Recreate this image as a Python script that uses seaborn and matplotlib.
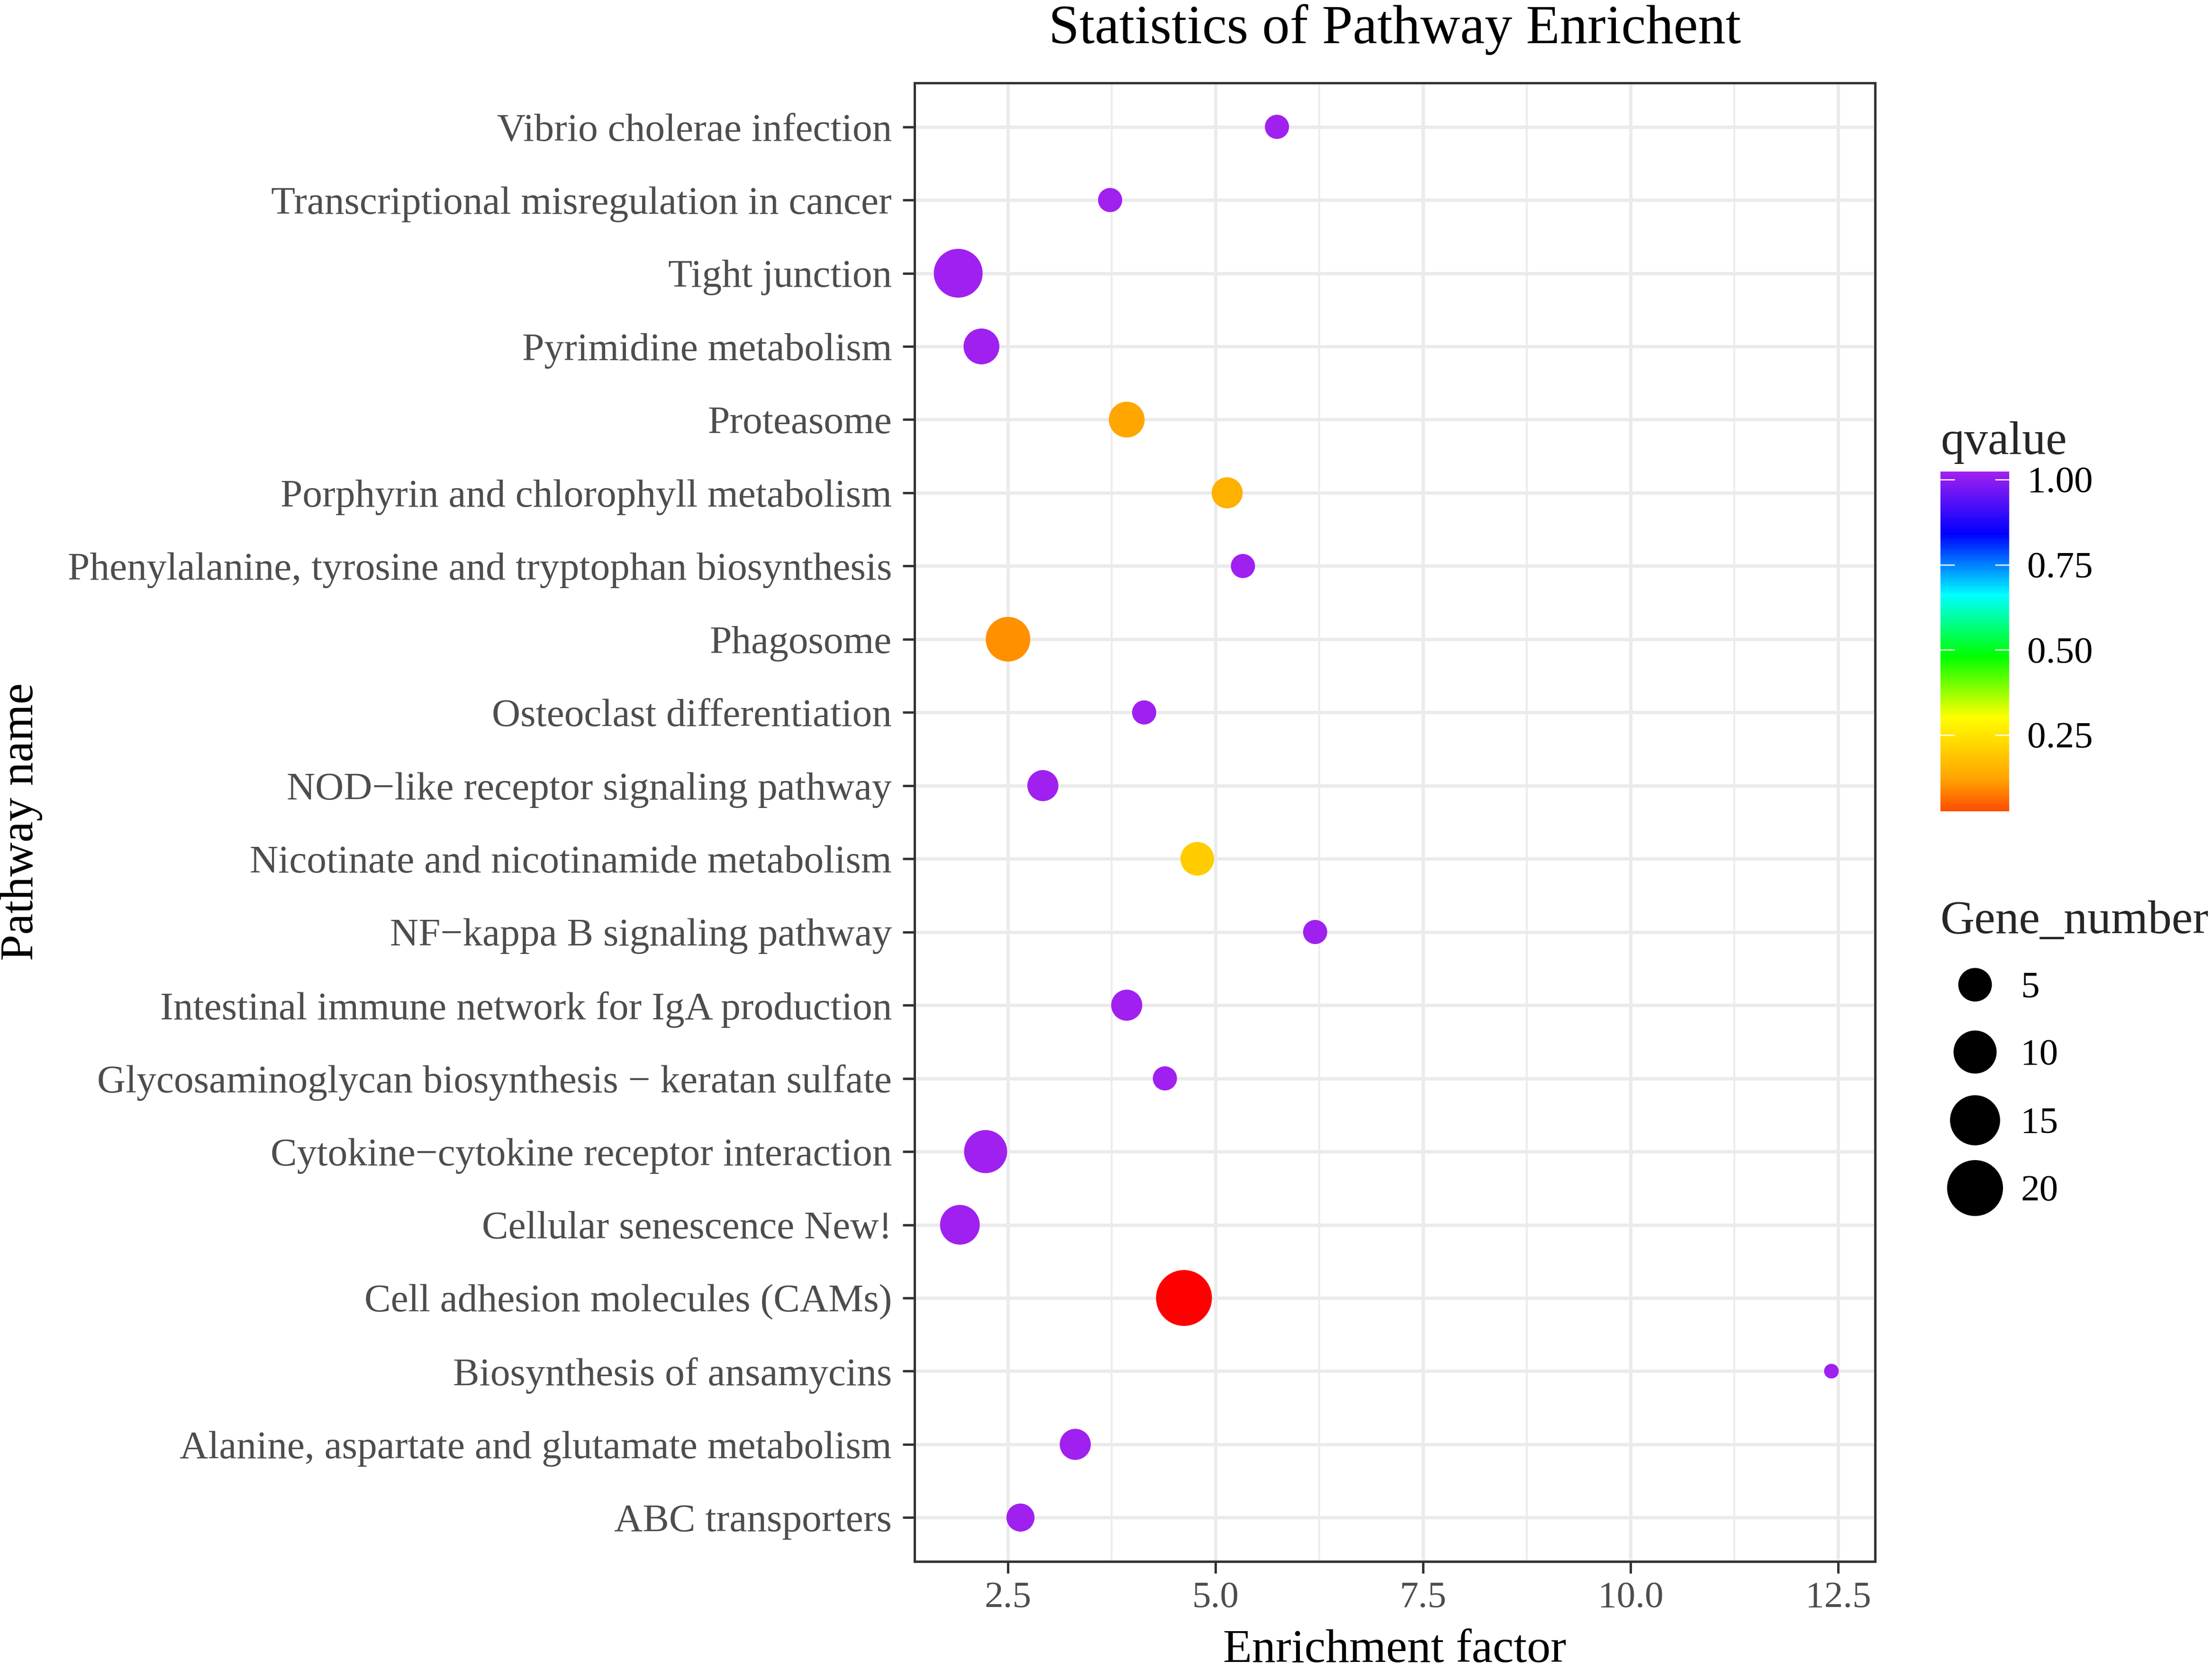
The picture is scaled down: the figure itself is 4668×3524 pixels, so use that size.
#Script for the pathway enrichment bubble chart

import numpy as np
import pandas as pd
import matplotlib
matplotlib.use("Agg")
import matplotlib.pyplot as plt
from matplotlib.colors import LinearSegmentedColormap, Normalize
from matplotlib.ticker import MultipleLocator
import seaborn as sns

# pathways listed from the bottom row to the top row
pathways = [
    "ABC transporters",
    "Alanine, aspartate and glutamate metabolism",
    "Biosynthesis of ansamycins",
    "Cell adhesion molecules (CAMs)",
    "Cellular senescence New!",
    "Cytokine\u2212cytokine receptor interaction",
    "Glycosaminoglycan biosynthesis \u2212 keratan sulfate",
    "Intestinal immune network for IgA production",
    "NF\u2212kappa B signaling pathway",
    "Nicotinate and nicotinamide metabolism",
    "NOD\u2212like receptor signaling pathway",
    "Osteoclast differentiation",
    "Phagosome",
    "Phenylalanine, tyrosine and tryptophan biosynthesis",
    "Porphyrin and chlorophyll metabolism",
    "Proteasome",
    "Pyrimidine metabolism",
    "Tight junction",
    "Transcriptional misregulation in cancer",
    "Vibrio cholerae infection",
]
enrichment = [2.65, 3.31, 12.42, 4.62, 1.92, 2.23, 4.39, 3.93, 6.20, 4.78,
              2.92, 4.14, 2.50, 5.33, 5.14, 3.93, 2.18, 1.90, 3.73, 5.74]
qvalues = [1.0, 1.0, 1.0, 0.05, 1.0, 1.0, 1.0, 1.0, 1.0, 0.28,
           1.0, 1.0, 0.19, 1.0, 0.23, 0.21, 1.0, 1.0, 1.0, 1.0]
gene_numbers = [3, 4, 1, 20, 8, 10, 2, 4, 2, 5,
                4, 2, 11, 2, 4, 6, 6, 14, 2, 2]

q_ticks = [0.25, 0.50, 0.75, 1.00]
size_legend = [5, 10, 15, 20]

W, H, DPI = 4668, 3524, 300
SERIF = ["Liberation Serif", "DejaVu Serif"]

qcolors = ["red", "orange", "yellow", "#00FF00", "cyan", "blue", "#A020F0"]
cmap = LinearSegmentedColormap.from_list("qrainbow", qcolors)
qnorm = Normalize(min(qvalues), max(qvalues))

gmin, gmax = min(gene_numbers), max(gene_numbers)


def marker_area(g):
    #ggplot-like area scale: diameter grows with sqrt of the rescaled value
    d_px = 31 + 87 * np.sqrt((g - gmin) / (gmax - gmin))
    return (d_px * 72 / DPI) ** 2


def fx(x):
    return x / W


def fy(y):
    return 1 - y / H


data = pd.DataFrame({
    "Pathway": pathways,
    "Enrichment": enrichment,
    "qvalue": qvalues,
    "Gene_number": gene_numbers,
})

sns.set_style("white")
plt.rcParams["font.family"] = SERIF

fig = plt.figure(figsize=(W / DPI, H / DPI), dpi=DPI)
ax = fig.add_axes([fx(1930), fy(3295), fx(3957) - fx(1930), fy(175) - fy(3295)])

sns.scatterplot(
    data=data,
    x="Enrichment",
    y="Pathway",
    hue="qvalue",
    size="Gene_number",
    palette=cmap,
    hue_norm=qnorm,
    sizes={g: marker_area(g) for g in set(gene_numbers)},
    linewidth=0,
    alpha=1,
    legend=False,
    ax=ax,
    zorder=3,
)

xr = max(enrichment) - min(enrichment)
ax.set_xlim(min(enrichment) - 0.05 * xr, max(enrichment) + 0.05 * xr)
ax.set_ylim(-0.6, len(pathways) - 0.4)
ax.xaxis.set_major_locator(MultipleLocator(2.5))
ax.xaxis.set_minor_locator(MultipleLocator(1.25))
ax.set_xticks([2.5, 5.0, 7.5, 10.0, 12.5])
ax.set_xticklabels(["2.5", "5.0", "7.5", "10.0", "12.5"])

ax.set_axisbelow(True)
ax.grid(True, which="major", color="#EBEBEB", linewidth=1.7)
ax.grid(True, which="minor", axis="x", color="#EBEBEB", linewidth=0.9)
for s in ax.spines.values():
    s.set_color("#333333")
    s.set_linewidth(1.2)

ax.tick_params(axis="both", which="major", length=6, width=1.2, color="#333333",
               labelcolor="#4D4D4D", left=True, bottom=True)
ax.tick_params(axis="y", labelsize=20, pad=5.5)
ax.tick_params(axis="x", labelsize=19, pad=4)
ax.tick_params(which="minor", length=0)
ax.set_xlabel("")
ax.set_ylabel("")

# titles
fig.text(fx(2943), fy(62), "Statistics of Pathway Enrichent", fontsize=28,
         ha="center", va="center", color="black")
fig.text(fx(2943), fy(3483), "Enrichment factor", fontsize=24,
         ha="center", va="center", color="black")
fig.text(fx(45), fy(1734), "Pathway name", fontsize=24, rotation=90,
         ha="center", va="center", color="black")

# colour bar for qvalue
qlo, qhi = qnorm.vmin, qnorm.vmax
half_bin = (qhi - qlo) / 40
bar_lo, bar_hi = qlo - half_bin, qhi + half_bin
cax = fig.add_axes([fx(4095), fy(1712), fx(4240) - fx(4095), fy(995) - fy(1712)])
# the bar starts a touch above the minimum, like the binned ggplot bar
grad = np.linspace(qlo + 0.08 * (qhi - qlo), qhi, 300).reshape(-1, 1)
cax.imshow(grad, cmap=cmap, norm=qnorm, aspect="auto", origin="lower",
           extent=[0, 1, bar_lo, bar_hi])
cax.set_ylim(bar_lo, bar_hi)
cax.set_xlim(0, 1)
for t in q_ticks:
    cax.plot([0, 0.2], [t, t], color="white", linewidth=0.6)
    cax.plot([0.8, 1], [t, t], color="white", linewidth=0.6)
cax.axis("off")

fig.text(fx(4095), fy(958), "qvalue", fontsize=24, ha="left", va="baseline")
bar_top_px, bar_bot_px = 995, 1712
for t in q_ticks:
    ypx = bar_bot_px - (t - bar_lo) / (bar_hi - bar_lo) * (bar_bot_px - bar_top_px)
    fig.text(fx(4278), fy(ypx + 26), f"{t:.2f}", fontsize=19, ha="left",
             va="baseline", color="black")

# size legend for Gene_number
lax = fig.add_axes([0, 0, 1, 1])
lax.set_xlim(0, W)
lax.set_ylim(H, 0)
lax.axis("off")
fig.text(fx(4095), fy(1969), "Gene_number", fontsize=24, ha="left", va="baseline")
leg_y = [2078, 2220, 2364, 2507]
lax.scatter([4168] * len(size_legend), leg_y,
            s=[marker_area(g) for g in size_legend], color="black", linewidth=0)
for g, ypx in zip(size_legend, leg_y):
    fig.text(fx(4264), fy(ypx + 26), str(g), fontsize=19, ha="left",
             va="baseline", color="black")

fig.savefig("out.png", dpi=DPI)
print("Saved to out.png")
